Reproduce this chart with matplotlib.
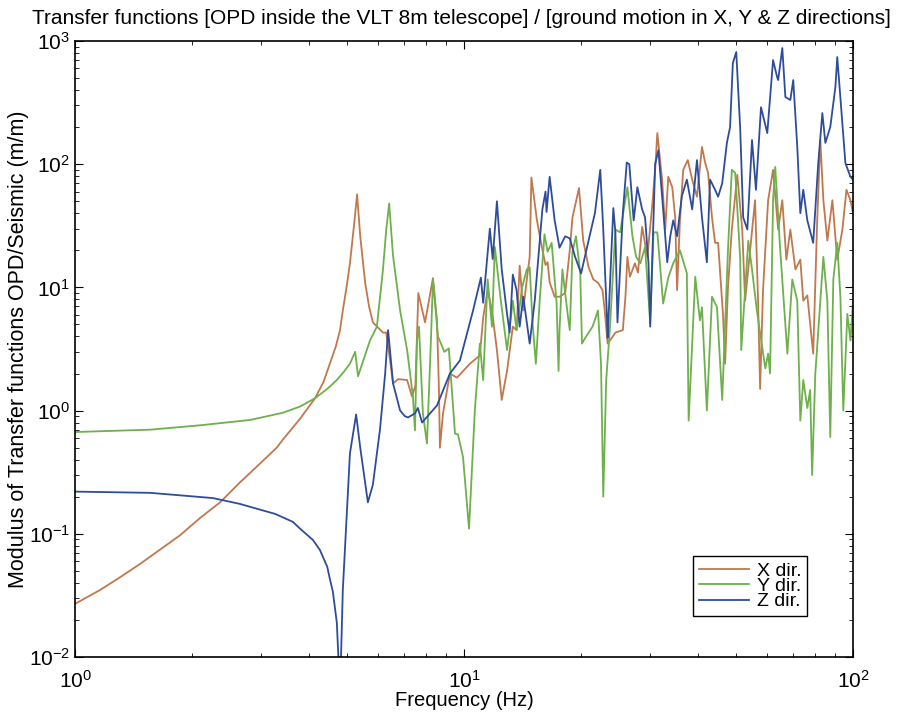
"""Transfer functions OPD / ground motion for the VLT 8m telescope.

Log-log plot of the modulus of the transfer functions between the optical
path difference inside the telescope and the seismic input in X, Y and Z.
Values read off the reference figure. Output: out.png.
"""
import matplotlib
matplotlib.use("Agg")
import matplotlib.pyplot as plt
from matplotlib.ticker import LogLocator, NullFormatter

plt.rcParams["font.family"] = ["Liberation Sans", "DejaVu Sans"]
plt.rcParams["mathtext.fontset"] = "custom"
plt.rcParams["mathtext.rm"] = "Liberation Sans"

OUT_PATH = "out.png"

COLOR_X = "#c0784c"   # brown
COLOR_Y = "#6eb04c"   # green
COLOR_Z = "#2e4c9c"   # blue

# (frequency Hz, |OPD/seismic| m/m)
x_dir = [
    (1.0, 0.027), (1.16, 0.035), (1.30, 0.044), (1.47, 0.057), (1.65, 0.074),
    (1.86, 0.097), (2.10, 0.135), (2.36, 0.18), (2.65, 0.26), (2.93, 0.35),
    (3.30, 0.50), (3.42, 0.58), (3.79, 0.86), (4.14, 1.26), (4.35, 1.7),
    (4.52, 2.4), (4.68, 3.3), (4.80, 4.5), (4.88, 6.5), (5.0, 10.5),
    (5.09, 15.7), (5.22, 33), (5.31, 57), (5.41, 26),
    (5.57, 10.9), (5.70, 7.0), (5.83, 5.2), (6.19, 4.3), (6.31, 4.3), (6.45, 2.6),
    (6.57, 1.66), (6.77, 1.8), (7.14, 1.77), (7.35, 1.3), (7.5, 1.6),
    (7.63, 9.0), (7.94, 5.2), (8.32, 11.9), (8.52, 5.4), (8.62, 1.5),
    (8.67, 0.5), (8.83, 0.95), (9.2, 2.0), (9.59, 1.85), (10.35, 2.4),
    (10.98, 2.8), (11.2, 5.7), (11.5, 9.5), (11.8, 6.5), (12.15, 3.1),
    (12.5, 1.22), (12.9, 2.1), (13.35, 4.8), (13.65, 4.5), (13.9, 15),
    (14.2, 6.5), (14.5, 11.6), (14.75, 17.7), (14.9, 78), (15.4, 35),
    (15.85, 21.3), (16.2, 15.2), (16.4, 16), (16.6, 11), (17.1, 8.4),
    (17.6, 8.4), (18.2, 9), (18.7, 20), (19.0, 37), (19.75, 64),
    (20.25, 24), (20.9, 14.6), (21.5, 11.6), (22.1, 10.9), (22.7, 9.5),
    (23.0, 6.5), (23.4, 3.5), (24.0, 3.9), (24.5, 4.3), (25.6, 4.5),
    (26.0, 8.4), (26.3, 17.7), (26.7, 12.2), (27.5, 15.7), (28.0, 13.2),
    (28.7, 31), (29.6, 17.7), (30.5, 48), (31.0, 90), (31.4, 179),
    (32.3, 75), (32.9, 29.5), (33.5, 79), (34.3, 65), (34.9, 37),
    (35.3, 9.5), (35.9, 35), (36.6, 90), (37.6, 108), (38.6, 75),
    (39.7, 54.5), (40.9, 138), (41.7, 102), (42.4, 85), (43.4, 37),
    (44.2, 23), (45.0, 23), (46.3, 6.1), (46.9, 2.4), (47.7, 10),
    (48.8, 29.5), (50.4, 82), (51.9, 29.5), (52.8, 7.8), (54.4, 20.3),
    (56.0, 51), (57.0, 7.8), (57.7, 1.5), (58.7, 9.5), (60.5, 51),
    (62.3, 90), (64.2, 29.5), (65.8, 51), (67.4, 16.8), (69.0, 29.5),
    (71.1, 14), (73.2, 16.8), (74.5, 7.8), (76.3, 8.6), (79.0, 2.9),
    (80.9, 35), (82.4, 157), (83.9, 51), (85.9, 24), (88.5, 51),
    (91.1, 16.8), (93.9, 29.5), (96.2, 62), (98.5, 51), (100.0, 40),
]

y_dir = [
    (1.0, 0.67), (1.56, 0.70), (2.10, 0.76), (2.82, 0.84), (3.42, 0.96),
    (3.79, 1.08), (4.14, 1.26), (4.45, 1.5), (4.71, 1.77), (4.90, 2.05),
    (5.09, 2.4), (5.25, 3.0), (5.34, 1.9),
    (5.73, 3.7), (5.97, 4.8), (6.19, 14), (6.31, 29.5), (6.42, 48),
    (6.57, 18), (6.85, 6.5), (7.14, 3.1), (7.39, 1.3), (7.48, 0.69),
    (7.57, 3.7), (7.66, 4.8), (7.84, 0.95), (8.03, 0.54), (8.22, 3.7),
    (8.32, 11.6), (8.57, 4.0), (8.9, 3.0), (9.14, 3.2), (9.48, 0.65),
    (9.65, 0.64), (9.94, 0.42), (10.3, 0.11), (10.66, 1.0), (10.98, 3.5),
    (11.2, 1.77), (11.5, 11.6), (11.8, 4.8), (12.0, 21.3), (12.4, 8.4),
    (12.9, 3.1), (13.35, 7.8), (13.65, 4.5), (14.1, 10), (14.5, 14),
    (14.75, 14.6), (15.0, 5.2), (15.3, 2.4), (15.65, 7.8), (16.1, 27),
    (16.4, 19.5), (16.8, 23), (17.3, 7.4), (17.5, 2.1), (17.6, 4.5),
    (17.9, 14), (18.5, 5.8), (18.7, 4.5), (19.0, 19.5), (19.4, 26),
    (19.9, 13), (20.1, 3.5), (20.5, 3.9), (21.4, 4.8), (22.1, 6.5),
    (22.5, 2.4), (22.8, 0.2), (23.2, 1.77), (23.7, 4.5), (24.5, 29.5),
    (25.2, 28), (26.3, 65), (27.1, 26), (27.7, 17.7), (28.4, 15.7),
    (29.2, 21.3), (30.1, 5.2), (30.7, 28), (31.4, 28), (32.5, 7.4),
    (33.5, 12), (34.5, 15.7), (35.9, 20), (37.4, 13), (37.8, 0.83),
    (39.3, 12.2), (40.4, 5.4), (40.9, 6.9), (42.1, 1.0), (43.4, 8.4),
    (44.7, 6.9), (46.1, 1.22), (47.7, 20), (48.8, 90), (49.8, 85),
    (51.3, 16.8), (51.6, 3.1), (53.8, 24), (55.0, 14), (56.6, 6.5),
    (59.5, 2.2), (60.5, 2.9), (61.2, 2.0), (62.3, 51), (63.1, 95),
    (65.0, 20), (67.8, 2.9), (69.8, 11.6), (71.9, 7.8), (73.2, 0.83),
    (74.5, 1.77), (76.3, 1.05), (77.6, 1.47), (78.5, 0.3), (80.0, 2.0),
    (83.9, 17.7), (85.9, 7.8), (87.4, 0.61), (89.0, 11.6), (91.1, 23),
    (92.8, 8.4), (94.4, 1.0), (96.7, 6.1), (98.5, 3.7), (100.0, 7.8),
]

z_dir = [
    (1.0, 0.22), (1.56, 0.215), (2.26, 0.195), (2.65, 0.175), (2.93, 0.16),
    (3.27, 0.145), (3.63, 0.125), (3.79, 0.11), (4.09, 0.089), (4.26, 0.074),
    (4.45, 0.054), (4.52, 0.043), (4.60, 0.034), (4.71, 0.019), (4.77, 0.008),
    (4.80, 0.005), (4.88, 0.035), (5.00, 0.15), (5.09, 0.45), (5.28, 0.93),
    (5.41, 0.5), (5.66, 0.18), (5.83, 0.25), (6.08, 0.7), (6.27, 2.0),
    (6.38, 4.5), (6.57, 1.66), (6.85, 1.0), (7.05, 0.9), (7.18, 0.88),
    (7.48, 0.95), (7.61, 1.05), (7.80, 0.8), (8.52, 1.1), (9.20, 2.0),
    (9.76, 2.55), (10.55, 6.5), (11.05, 12), (11.2, 7.5), (11.65, 30),
    (11.85, 17), (12.15, 50), (12.5, 14), (12.9, 6.1), (13.1, 4.3),
    (13.35, 12.7), (13.65, 9.5), (13.9, 4.8), (14.2, 8.4), (14.75, 3.5),
    (15.2, 7.8), (15.9, 43), (16.2, 60), (16.3, 41), (16.6, 79),
    (17.1, 35), (17.6, 21), (18.2, 26), (18.7, 25), (19.3, 17.7),
    (20.0, 13), (20.9, 24), (21.7, 40), (22.4, 90), (22.8, 29.5),
    (23.3, 5.8), (23.4, 3.9), (24.2, 44), (24.5, 28), (24.8, 5.2),
    (25.6, 40), (26.2, 103), (26.6, 100), (27.3, 35), (27.9, 65),
    (28.7, 43), (29.2, 37), (29.8, 15.7), (30.1, 4.8), (31.0, 100),
    (31.6, 130), (32.5, 43), (33.3, 16), (33.9, 26), (34.5, 35),
    (35.3, 26), (36.3, 55), (37.4, 75), (38.6, 43), (39.7, 108),
    (40.9, 37), (42.1, 16), (42.9, 75), (44.2, 62), (45.0, 54.5),
    (46.1, 70), (47.4, 149), (48.3, 200), (49.1, 663), (50.1, 814),
    (51.3, 190), (52.2, 37), (53.5, 29.5), (55.0, 157), (56.3, 62),
    (58.0, 290), (60.2, 179), (62.3, 700), (63.8, 510), (64.2, 482),
    (65.8, 877), (67.0, 351), (69.0, 332), (70.2, 482), (71.9, 138),
    (73.2, 40), (74.5, 62), (76.3, 35), (79.0, 23), (81.4, 102),
    (83.4, 260), (84.9, 149), (87.4, 200), (90.1, 424), (91.1, 741),
    (93.9, 216), (95.6, 102), (98.5, 79), (100.0, 75),
]

SERIES = [("X dir.", x_dir, COLOR_X), ("Y dir.", y_dir, COLOR_Y),
          ("Z dir.", z_dir, COLOR_Z)]


def main():
    fig = plt.figure(figsize=(9.04, 7.17), dpi=100)
    ax = fig.add_axes([0.083, 0.0837, 0.8606, 0.8591])

    for label, pts, color in SERIES:
        f, m = zip(*pts)
        ax.loglog(f, m, color=color, lw=1.3, label=label)

    ax.set_xlim(1, 100)
    ax.set_ylim(1e-2, 1e3)
    ax.xaxis.set_minor_locator(LogLocator(base=10, subs=range(2, 10)))
    ax.yaxis.set_minor_locator(LogLocator(base=10, subs=range(2, 10)))
    ax.xaxis.set_minor_formatter(NullFormatter())
    ax.yaxis.set_minor_formatter(NullFormatter())
    ax.tick_params(which="both", direction="in", top=True, right=True,
                   labelsize=15)
    ax.tick_params(which="major", length=6)
    ax.tick_params(which="minor", length=3)
    ax.tick_params(axis="x", which="major", pad=9)
    for s in ax.spines.values():
        s.set_linewidth(1.2)

    ax.set_xlabel("Frequency (Hz)", fontsize=14.5, labelpad=0)
    ax.set_ylabel("Modulus of Transfer functions OPD/Seismic (m/m)",
                  fontsize=15.5, labelpad=0)
    fig.text(0.51, 0.974,
             "Transfer functions [OPD inside the VLT 8m telescope] / "
             "[ground motion in X, Y & Z directions]",
             ha="center", va="center", fontsize=15)

    leg = ax.legend(loc="lower left", bbox_to_anchor=(0.794, 0.066),
                    borderaxespad=0, fontsize=14, labelspacing=-0.12,
                    handlelength=2.6, handletextpad=0.4, borderpad=0.3,
                    fancybox=False, framealpha=1)
    leg.get_frame().set_edgecolor("black")
    leg.get_frame().set_linewidth(1.0)

    fig.savefig(OUT_PATH, dpi=100)


if __name__ == "__main__":
    main()
